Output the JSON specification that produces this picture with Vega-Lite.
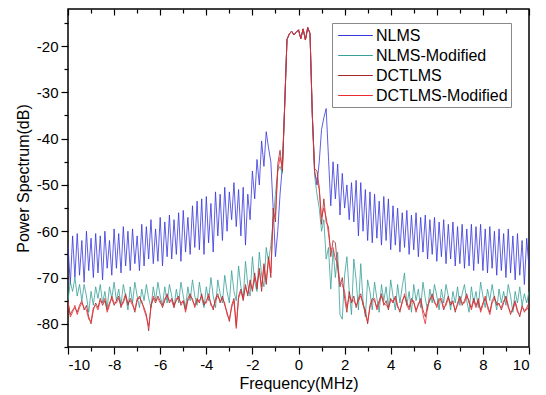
{
  "$schema": "https://vega.github.io/schema/vega-lite/v6.json",
  "autosize": "none",
  "width": 461,
  "height": 338,
  "padding": {"left": 68, "top": 9, "right": 17, "bottom": 48},
  "background": "white",
  "config": {
    "view": {"stroke": "#000", "strokeWidth": 1.5},
    "font": "Liberation Sans",
    "axis": {"grid": false, "domain": false, "tickColor": "#000", "tickWidth": 1.2, "labelColor": "#000", "titleColor": "#000", "labelFont": "Liberation Sans", "titleFont": "Liberation Sans", "titleFontWeight": "normal"}
  },
  "data": {"values": [
{"f":-10.0,"a":-63,"b":-75,"c":-75.5,"d":-75},
{"f":-9.9,"a":-71.5,"b":-71,"c":-78,"d":-78.5},
{"f":-9.8,"a":-61,"b":-73,"c":-77,"d":-77.5},
{"f":-9.7,"a":-70,"b":-70,"c":-76.5,"d":-76},
{"f":-9.6,"a":-60.5,"b":-74,"c":-77.5,"d":-78},
{"f":-9.5,"a":-69.5,"b":-71.5,"c":-76,"d":-76.5},
{"f":-9.4,"a":-62,"b":-75,"c":-75,"d":-75.5},
{"f":-9.3,"a":-71,"b":-71.5,"c":-77,"d":-76.5},
{"f":-9.2,"a":-60,"b":-74,"c":-76,"d":-77},
{"f":-9.1,"a":-68.5,"b":-77.5,"c":-78.5,"d":-79},
{"f":-9.0,"a":-61.5,"b":-73,"c":-80,"d":-79.5},
{"f":-8.9,"a":-70,"b":-76,"c":-77,"d":-76.5},
{"f":-8.8,"a":-60.5,"b":-72,"c":-75.5,"d":-76},
{"f":-8.7,"a":-69,"b":-74.5,"c":-76.5,"d":-77},
{"f":-8.6,"a":-61,"b":-71.5,"c":-74.5,"d":-75},
{"f":-8.5,"a":-70.5,"b":-75.5,"c":-76,"d":-75.5},
{"f":-8.4,"a":-60,"b":-73,"c":-75,"d":-74.5},
{"f":-8.3,"a":-68,"b":-76.5,"c":-77,"d":-77.5},
{"f":-8.2,"a":-62,"b":-72,"c":-75.5,"d":-76},
{"f":-8.1,"a":-69.5,"b":-74.5,"c":-74.5,"d":-74},
{"f":-8.0,"a":-59.5,"b":-71,"c":-76,"d":-75.5},
{"f":-7.9,"a":-68,"b":-75,"c":-75,"d":-75.5},
{"f":-7.8,"a":-60.5,"b":-72.5,"c":-74,"d":-74.5},
{"f":-7.7,"a":-69,"b":-76,"c":-76.5,"d":-76},
{"f":-7.6,"a":-59,"b":-71.5,"c":-75,"d":-75.5},
{"f":-7.5,"a":-67.5,"b":-74,"c":-73.5,"d":-74},
{"f":-7.4,"a":-60,"b":-77,"c":-76,"d":-75.5},
{"f":-7.3,"a":-68.5,"b":-72,"c":-74.5,"d":-75},
{"f":-7.2,"a":-59.5,"b":-75.5,"c":-75.5,"d":-76},
{"f":-7.1,"a":-67,"b":-71,"c":-77.5,"d":-77},
{"f":-7.0,"a":-61,"b":-74,"c":-75,"d":-74.5},
{"f":-6.9,"a":-68.5,"b":-76.5,"c":-74,"d":-74.5},
{"f":-6.8,"a":-58.5,"b":-72.5,"c":-75.5,"d":-75},
{"f":-6.7,"a":-67.5,"b":-75,"c":-76.5,"d":-77},
{"f":-6.6,"a":-59,"b":-71.5,"c":-78,"d":-78.5},
{"f":-6.5,"a":-66,"b":-74.5,"c":-81.5,"d":-80.5},
{"f":-6.4,"a":-57.5,"b":-76.5,"c":-76,"d":-76.5},
{"f":-6.3,"a":-67,"b":-72,"c":-74.5,"d":-74},
{"f":-6.2,"a":-59.5,"b":-75,"c":-75.5,"d":-75},
{"f":-6.1,"a":-66.5,"b":-71,"c":-74,"d":-74.5},
{"f":-6.0,"a":-57,"b":-74,"c":-75,"d":-75.5},
{"f":-5.9,"a":-67.5,"b":-76,"c":-76.5,"d":-76},
{"f":-5.8,"a":-58,"b":-72,"c":-75,"d":-74.5},
{"f":-5.7,"a":-65.5,"b":-75.5,"c":-73.5,"d":-74},
{"f":-5.6,"a":-56.5,"b":-71.5,"c":-75.5,"d":-75},
{"f":-5.5,"a":-66,"b":-74,"c":-74.5,"d":-75},
{"f":-5.4,"a":-57.5,"b":-76.5,"c":-76,"d":-76.5},
{"f":-5.3,"a":-65,"b":-72.5,"c":-75,"d":-74.5},
{"f":-5.2,"a":-56,"b":-75.5,"c":-74,"d":-74.5},
{"f":-5.1,"a":-66.5,"b":-71,"c":-76,"d":-75.5},
{"f":-5.0,"a":-55.5,"b":-74,"c":-75,"d":-75},
{"f":-4.9,"a":-64.5,"b":-76.5,"c":-77,"d":-77.5},
{"f":-4.8,"a":-57,"b":-72,"c":-74.5,"d":-75},
{"f":-4.7,"a":-65,"b":-75,"c":-73.5,"d":-74},
{"f":-4.6,"a":-54.5,"b":-70.5,"c":-75,"d":-74.5},
{"f":-4.5,"a":-63.5,"b":-74,"c":-76,"d":-76.5},
{"f":-4.4,"a":-53.5,"b":-76,"c":-74.5,"d":-75},
{"f":-4.3,"a":-64,"b":-71,"c":-75.5,"d":-75},
{"f":-4.2,"a":-53,"b":-74.5,"c":-73.5,"d":-74},
{"f":-4.1,"a":-65,"b":-76.5,"c":-76,"d":-75.5},
{"f":-4.0,"a":-52.5,"b":-72,"c":-75,"d":-75.5},
{"f":-3.9,"a":-62.5,"b":-75,"c":-74,"d":-73.5},
{"f":-3.8,"a":-54,"b":-70,"c":-75.5,"d":-76},
{"f":-3.7,"a":-64.5,"b":-74,"c":-77,"d":-76.5},
{"f":-3.6,"a":-51.5,"b":-76.5,"c":-74.5,"d":-75},
{"f":-3.5,"a":-61,"b":-70.5,"c":-73.5,"d":-74},
{"f":-3.4,"a":-52,"b":-73.5,"c":-75.5,"d":-75},
{"f":-3.3,"a":-62,"b":-75.5,"c":-74,"d":-74.5},
{"f":-3.2,"a":-50.5,"b":-69.5,"c":-76,"d":-75.5},
{"f":-3.1,"a":-60,"b":-73,"c":-77.5,"d":-78},
{"f":-3.0,"a":-51.5,"b":-75.5,"c":-79.5,"d":-79},
{"f":-2.9,"a":-57.5,"b":-68.5,"c":-76,"d":-76.5},
{"f":-2.8,"a":-49.5,"b":-73,"c":-74.5,"d":-75},
{"f":-2.7,"a":-59,"b":-75,"c":-80.5,"d":-81},
{"f":-2.6,"a":-51,"b":-67.5,"c":-74,"d":-74.5},
{"f":-2.5,"a":-61,"b":-72,"c":-72.5,"d":-73},
{"f":-2.4,"a":-50.5,"b":-74.5,"c":-75,"d":-74.5},
{"f":-2.3,"a":-63,"b":-66.5,"c":-71.5,"d":-72},
{"f":-2.2,"a":-52,"b":-71.5,"c":-74,"d":-73.5},
{"f":-2.1,"a":-57.5,"b":-74,"c":-70.5,"d":-71},
{"f":-2.0,"a":-47,"b":-65.5,"c":-73,"d":-72.5},
{"f":-1.9,"a":-53,"b":-71,"c":-69,"d":-70},
{"f":-1.8,"a":-44.5,"b":-73,"c":-72.5,"d":-71.5},
{"f":-1.7,"a":-50,"b":-64.5,"c":-68,"d":-68.5},
{"f":-1.6,"a":-40.5,"b":-69.5,"c":-73,"d":-72},
{"f":-1.5,"a":-46,"b":-72,"c":-67,"d":-67.5},
{"f":-1.4,"a":-38.5,"b":-63.5,"c":-71.5,"d":-71},
{"f":-1.3,"a":-42,"b":-66.5,"c":-65.5,"d":-66},
{"f":-1.2,"a":-45,"b":-63,"c":-70,"d":-69},
{"f":-1.1,"a":-55,"b":-58,"c":-55,"d":-57},
{"f":-1.0,"a":-65.5,"b":-52,"c":-58,"d":-56.5},
{"f":-0.9,"a":-60,"b":-47,"c":-45.5,"d":-47},
{"f":-0.8,"a":-52,"b":-46,"c":-42.5,"d":-44},
{"f":-0.7,"a":-46,"b":-47.5,"c":-47,"d":-46.5},
{"f":-0.6,"a":-33,"b":-33,"c":-33,"d":-33},
{"f":-0.5,"a":-18.6,"b":-18.6,"c":-18.6,"d":-18.6},
{"f":-0.4,"a":-17.4,"b":-17.4,"c":-17.4,"d":-17.4},
{"f":-0.3,"a":-16.8,"b":-16.8,"c":-16.8,"d":-16.8},
{"f":-0.2,"a":-17.6,"b":-17.6,"c":-17.6,"d":-17.6},
{"f":-0.1,"a":-17,"b":-17,"c":-17,"d":-17},
{"f":0.0,"a":-16.5,"b":-16.5,"c":-16.5,"d":-16.5},
{"f":0.1,"a":-18.4,"b":-18.4,"c":-18.4,"d":-18.4},
{"f":0.2,"a":-16.3,"b":-16.3,"c":-16.3,"d":-16.3},
{"f":0.3,"a":-18.7,"b":-18.7,"c":-18.7,"d":-18.7},
{"f":0.4,"a":-16,"b":-16,"c":-16,"d":-16},
{"f":0.5,"a":-17.3,"b":-17.3,"c":-17.3,"d":-17.3},
{"f":0.6,"a":-35,"b":-35,"c":-35,"d":-35},
{"f":0.7,"a":-47,"b":-48,"c":-46.5,"d":-47.5},
{"f":0.8,"a":-50,"b":-52,"c":-47,"d":-49},
{"f":0.9,"a":-45,"b":-55,"c":-50.5,"d":-51},
{"f":1.0,"a":-38,"b":-60,"c":-58.5,"d":-57},
{"f":1.1,"a":-35.5,"b":-57.5,"c":-53,"d":-55},
{"f":1.2,"a":-33.5,"b":-66,"c":-58,"d":-57},
{"f":1.3,"a":-44,"b":-63.5,"c":-59,"d":-60.5},
{"f":1.4,"a":-54.5,"b":-72.5,"c":-65.5,"d":-64},
{"f":1.5,"a":-45,"b":-64,"c":-62,"d":-63.5},
{"f":1.6,"a":-53,"b":-70,"c":-62.5,"d":-66},
{"f":1.7,"a":-45.5,"b":-64.5,"c":-68,"d":-67},
{"f":1.8,"a":-56.5,"b":-78,"c":-72,"d":-71},
{"f":1.9,"a":-47.5,"b":-79,"c":-70,"d":-71.5},
{"f":2.0,"a":-55,"b":-69.5,"c":-74.5,"d":-73},
{"f":2.1,"a":-50,"b":-65.5,"c":-77.5,"d":-76.5},
{"f":2.2,"a":-57.5,"b":-73,"c":-73,"d":-74},
{"f":2.3,"a":-49.5,"b":-78,"c":-75.5,"d":-75},
{"f":2.4,"a":-58,"b":-66,"c":-74,"d":-75},
{"f":2.5,"a":-49,"b":-70.5,"c":-76.5,"d":-76},
{"f":2.6,"a":-61,"b":-77,"c":-74.5,"d":-75},
{"f":2.7,"a":-49.5,"b":-67,"c":-73.5,"d":-74},
{"f":2.8,"a":-60,"b":-75,"c":-76,"d":-75.5},
{"f":2.9,"a":-51,"b":-78.5,"c":-77,"d":-78},
{"f":3.0,"a":-62,"b":-70.5,"c":-80,"d":-79.5},
{"f":3.1,"a":-51.5,"b":-73,"c":-76,"d":-76.5},
{"f":3.2,"a":-62.5,"b":-77,"c":-74.5,"d":-75},
{"f":3.3,"a":-52,"b":-71,"c":-75,"d":-74.5},
{"f":3.4,"a":-61.5,"b":-74.5,"c":-76.5,"d":-77},
{"f":3.5,"a":-53.5,"b":-77.5,"c":-75,"d":-75.5},
{"f":3.6,"a":-63,"b":-71.5,"c":-73.5,"d":-74},
{"f":3.7,"a":-52.5,"b":-75,"c":-76,"d":-75.5},
{"f":3.8,"a":-62,"b":-72,"c":-75,"d":-76},
{"f":3.9,"a":-53,"b":-76.5,"c":-77,"d":-76.5},
{"f":4.0,"a":-64,"b":-70.5,"c":-74.5,"d":-75},
{"f":4.1,"a":-54.5,"b":-74,"c":-75.5,"d":-75},
{"f":4.2,"a":-63,"b":-77,"c":-74,"d":-74.5},
{"f":4.3,"a":-55,"b":-71.5,"c":-76,"d":-76.5},
{"f":4.4,"a":-64.5,"b":-75.5,"c":-77.5,"d":-77},
{"f":4.5,"a":-56,"b":-72,"c":-75,"d":-75.5},
{"f":4.6,"a":-63.5,"b":-69,"c":-74,"d":-73.5},
{"f":4.7,"a":-55.5,"b":-76,"c":-75.5,"d":-76},
{"f":4.8,"a":-65,"b":-73,"c":-76.5,"d":-77},
{"f":4.9,"a":-56.5,"b":-77.5,"c":-74.5,"d":-75},
{"f":5.0,"a":-64,"b":-71.5,"c":-75.5,"d":-75},
{"f":5.1,"a":-56,"b":-75,"c":-77,"d":-77.5},
{"f":5.2,"a":-65.5,"b":-72.5,"c":-76,"d":-75.5},
{"f":5.3,"a":-57,"b":-76.5,"c":-74.5,"d":-75},
{"f":5.4,"a":-64.5,"b":-71,"c":-77,"d":-78},
{"f":5.5,"a":-56.5,"b":-74.5,"c":-78.5,"d":-80},
{"f":5.6,"a":-66,"b":-77,"c":-76,"d":-76.5},
{"f":5.7,"a":-57.5,"b":-72.5,"c":-75,"d":-74.5},
{"f":5.8,"a":-65,"b":-75.5,"c":-73.5,"d":-74},
{"f":5.9,"a":-57,"b":-71.5,"c":-75.5,"d":-75},
{"f":6.0,"a":-66.5,"b":-74,"c":-76,"d":-76.5},
{"f":6.1,"a":-58,"b":-77,"c":-74.5,"d":-75},
{"f":6.2,"a":-65.5,"b":-72.5,"c":-75,"d":-74.5},
{"f":6.3,"a":-57.5,"b":-75.5,"c":-77,"d":-76.5},
{"f":6.4,"a":-67,"b":-71.5,"c":-75.5,"d":-76},
{"f":6.5,"a":-58.5,"b":-74,"c":-74,"d":-74.5},
{"f":6.6,"a":-66,"b":-77,"c":-76,"d":-75.5},
{"f":6.7,"a":-58,"b":-73,"c":-75,"d":-75.5},
{"f":6.8,"a":-67.5,"b":-75.5,"c":-77.5,"d":-77},
{"f":6.9,"a":-59,"b":-72,"c":-75.5,"d":-76},
{"f":7.0,"a":-67,"b":-76,"c":-74,"d":-74.5},
{"f":7.1,"a":-58.5,"b":-73.5,"c":-76,"d":-75.5},
{"f":7.2,"a":-68,"b":-71.5,"c":-75,"d":-75.5},
{"f":7.3,"a":-59.5,"b":-75,"c":-73.5,"d":-74},
{"f":7.4,"a":-67.5,"b":-77.5,"c":-75.5,"d":-75},
{"f":7.5,"a":-58.5,"b":-72,"c":-76.5,"d":-77},
{"f":7.6,"a":-68.5,"b":-75.5,"c":-74.5,"d":-75},
{"f":7.7,"a":-59,"b":-73,"c":-76,"d":-76.5},
{"f":7.8,"a":-67,"b":-76.5,"c":-75,"d":-74.5},
{"f":7.9,"a":-58.5,"b":-71,"c":-77,"d":-77.5},
{"f":8.0,"a":-68.5,"b":-74,"c":-75.5,"d":-76},
{"f":8.1,"a":-59.5,"b":-76.5,"c":-74.5,"d":-74},
{"f":8.2,"a":-69,"b":-72.5,"c":-76,"d":-76.5},
{"f":8.3,"a":-59,"b":-75,"c":-77.5,"d":-78},
{"f":8.4,"a":-68,"b":-71.5,"c":-75,"d":-75.5},
{"f":8.5,"a":-60,"b":-74.5,"c":-74,"d":-74.5},
{"f":8.6,"a":-69.5,"b":-77,"c":-76,"d":-75.5},
{"f":8.7,"a":-59.5,"b":-72.5,"c":-75.5,"d":-76},
{"f":8.8,"a":-68.5,"b":-75.5,"c":-77,"d":-76.5},
{"f":8.9,"a":-60.5,"b":-73,"c":-75.5,"d":-75},
{"f":9.0,"a":-70,"b":-76,"c":-74,"d":-74.5},
{"f":9.1,"a":-59.5,"b":-71.5,"c":-76,"d":-76.5},
{"f":9.2,"a":-69,"b":-74,"c":-78,"d":-77.5},
{"f":9.3,"a":-61,"b":-77.5,"c":-76.5,"d":-77},
{"f":9.4,"a":-70.5,"b":-73,"c":-75,"d":-75.5},
{"f":9.5,"a":-60.5,"b":-75.5,"c":-77,"d":-77.5},
{"f":9.6,"a":-69.5,"b":-72,"c":-78.5,"d":-78},
{"f":9.7,"a":-62,"b":-76,"c":-76,"d":-76.5},
{"f":9.8,"a":-71.5,"b":-73.5,"c":-77.5,"d":-77},
{"f":9.9,"a":-61.5,"b":-75.5,"c":-76.5,"d":-77},
{"f":10.0,"a":-68,"b":-73,"c":-75.5,"d":-76}
  ]},
  "transform": [{"fold": ["a", "b", "c", "d"], "as": ["k", "v"]}],
  "layer": [
    {
      "mark": {"type": "line", "strokeWidth": 0.8, "clip": true},
      "encoding": {
        "x": {"field": "f", "type": "quantitative", "scale": {"domain": [-10, 10], "nice": false},
          "axis": {"orient": "bottom", "values": [-10,-8,-6,-4,-2,0,2,4,6,8,10], "tickSize": 7, "labelFontSize": 15, "labelPadding": 3, "labelExpr": "'' + datum.value", "title": "Frequency(MHz)", "titleFontSize": 16, "titlePadding": 3}},
        "y": {"field": "v", "type": "quantitative", "scale": {"domain": [-85, -12], "nice": false, "zero": false},
          "axis": {"orient": "left", "values": [-80,-70,-60,-50,-40,-30,-20], "tickSize": 7, "labelFontSize": 15, "labelPadding": 3, "labelExpr": "'' + datum.value", "title": "Power Spectrum(dB)", "titleFontSize": 16, "titlePadding": 5}},
        "color": {"field": "k", "type": "nominal",
          "scale": {"domain": ["a", "b", "c", "d"], "range": ["#3535dc", "#36a098", "#a3262a", "#ea2a2e"]},
          "legend": {"orient": "none", "legendX": 264, "legendY": 14, "title": null, "symbolType": "M-2,0H2", "symbolSize": 300, "symbolStrokeWidth": 1, "symbolOffset": 11, "labelFontSize": 16, "labelFont": "Liberation Sans", "labelColor": "#000", "labelOffset": 11, "padding": 3, "rowPadding": 2, "strokeColor": "#888", "fillColor": "white",
            "labelExpr": "datum.label == 'a' ? 'NLMS' : datum.label == 'b' ? 'NLMS-Modified' : datum.label == 'c' ? 'DCTLMS' : 'DCTLMS-Modified'"}}
      }
    },
    {
      "mark": {"type": "point", "opacity": 0},
      "encoding": {
        "x": {"field": "f", "type": "quantitative", "scale": {"domain": [-10, 10], "nice": false},
          "axis": {"orient": "bottom", "values": [-9,-7,-5,-3,-1,1,3,5,7,9], "tickSize": 4, "labels": false, "title": null}},
        "y": {"field": "v", "type": "quantitative", "scale": {"domain": [-85, -12], "nice": false, "zero": false},
          "axis": {"orient": "left", "values": [-85,-75,-65,-55,-45,-35,-25,-15], "tickSize": 4, "labels": false, "title": null}}
      }
    },
    {
      "mark": {"type": "point", "opacity": 0},
      "encoding": {
        "x": {"field": "f", "type": "quantitative", "scale": {"domain": [-10, 10], "nice": false},
          "axis": {"orient": "top", "values": [-10,-8,-6,-4,-2,0,2,4,6,8,10], "tickSize": -6, "labels": false, "title": null}},
        "y": {"field": "v", "type": "quantitative", "scale": {"domain": [-85, -12], "nice": false, "zero": false}, "axis": null}
      }
    },
    {
      "mark": {"type": "point", "opacity": 0},
      "encoding": {
        "x": {"field": "f", "type": "quantitative", "scale": {"domain": [-10, 10], "nice": false},
          "axis": {"orient": "top", "values": [-9,-7,-5,-3,-1,1,3,5,7,9], "tickSize": -4, "labels": false, "title": null}},
        "y": {"field": "v", "type": "quantitative", "scale": {"domain": [-85, -12], "nice": false, "zero": false}, "axis": null}
      }
    }
  ],
  "resolve": {"axis": {"x": "independent", "y": "independent"}}
}
